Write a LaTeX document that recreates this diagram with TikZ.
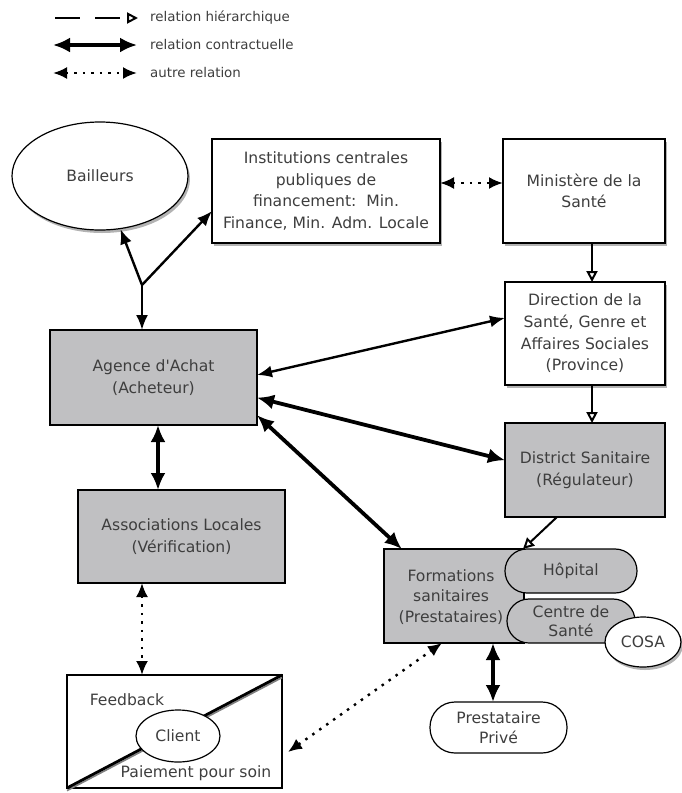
\documentclass[tikz,border=0pt]{standalone}
\usepackage{fontspec}
\setmainfont{DejaVu Sans}
\usetikzlibrary{arrows.meta,shapes.geometric,shadows,calc}
\definecolor{boxgray}{RGB}{192,192,194}
\definecolor{txt}{RGB}{62,62,62}
\begin{document}
\begin{tikzpicture}[x=1pt,y=-1pt,
  font=\fontsize{15.6}{21.7}\selectfont, text=txt,
  box/.style={draw=black, line width=1.2pt, align=center, inner sep=1pt, outer sep=0pt},
  graybox/.style={box, fill=boxgray},
  whitebox/.style={box, fill=white},
  shad/.style={drop shadow={shadow xshift=2pt, shadow yshift=-3pt, opacity=0.6}},
  pill/.style={box, rounded corners=21.9pt},
  contract/.style={line width=3.8pt, {Latex[length=17pt,width=15pt]}-{Latex[length=17pt,width=15pt]}},
  contractthin/.style={line width=2.4pt, -{Latex[length=15pt,width=12pt]}},
  hier/.style={line width=2pt, -{Triangle[open,length=11pt,width=11pt,line width=2pt]}},
  other/.style={line width=2.4pt, dash pattern=on 2.5pt off 6pt, {Latex[length=14pt,width=12pt]}-{Latex[length=14pt,width=12pt]}},
  legtext/.style={anchor=west, font=\fontsize{13.4}{15}\selectfont, inner sep=0pt}
]
\useasboundingbox (0,0) rectangle (682,793);

% legend
\node[legtext] (t1) at (150,18) {relation hiérarchique};
\node[legtext] (t2) at (150,45) {relation contractuelle};
\node[legtext] (t3) at (150,73) {autre relation};
\coordinate (l1) at (55,18);
\coordinate (l2) at (53,45);
\coordinate (l3) at (53,73);
\draw[hier, dash pattern=on 25pt off 15pt] (l1) -- ([xshift=-12pt]t1.west);
\draw[contract, line width=3.2pt] (l2) -- ([xshift=-13pt]t2.west);
\draw[other] (l3) -- ([xshift=-13pt]t3.west);

% nodes
\node[ellipse, draw=black, line width=1.2pt, fill=white, minimum width=176pt, minimum height=108pt, shad] (bail) at (100,176) {Bailleurs};
\node[whitebox, shad, minimum width=228pt, minimum height=104pt] (inst) at (326,191) {Institutions centrales\\publiques de\\financement:\ \ Min.\\Finance, Min. Adm. Locale};
\node[whitebox, shad, minimum width=162pt, minimum height=104pt] (min) at (584,191) {Ministère de la\\Santé};
\node[whitebox, shad, minimum width=160pt, minimum height=103pt] (dir) at (585,333.5) {Direction de la\\Santé, Genre et\\Affaires Sociales\\(Province)};
\node[graybox, minimum width=160pt, minimum height=94pt] (dist) at (585,470) {District Sanitaire\\(Régulateur)};
\node[graybox, minimum width=207pt, minimum height=95pt] (agence) at (153.5,377.5) {Agence d\textquotesingle Achat\\(Acheteur)};
\node[graybox, minimum width=207pt, minimum height=93pt] (assoc) at (181.5,536.5) {Associations Locales\\(Vérification)};

\node[graybox, minimum width=140pt, minimum height=94pt] (form) at (454,596) {};
\node[pill, fill=boxgray, minimum width=132pt, minimum height=44pt] (hop) at (571,571) {Hôpital};
\node[pill, fill=boxgray, minimum width=128pt, minimum height=44pt, font=\fontsize{15.6}{19.5}\selectfont] (cs) at (571,621) {Centre de\\Santé};
\node[align=center, inner sep=0pt, font=\fontsize{15.6}{20.5}\selectfont] (formtxt) at (451,597) {Formations\\sanitaires\\(Prestataires)};
\node[ellipse, draw=black, line width=1.2pt, fill=white, minimum width=76pt, minimum height=50pt, inner sep=0pt, shad] (cosa) at (643,642) {COSA};
\node[pill, fill=white, minimum width=137pt, minimum height=51pt, rounded corners=25pt, font=\fontsize{15.6}{20}\selectfont] (prest) at (498.5,727.5) {Prestataire\\Privé};

% client box
\node[box, minimum width=215pt, minimum height=113pt] (clbox) at (174.5,731.5) {};
\draw[line width=1.6pt, gray] ([yshift=-2.6pt]clbox.south west) -- ([yshift=-2.6pt]clbox.north east);
\draw[line width=2.8pt, black] (clbox.south west) -- (clbox.north east);
\node[ellipse, draw=black, line width=1.2pt, fill=white, minimum width=84pt, minimum height=52pt, inner sep=0pt] (client) at (178,736) {Client};
\node[inner sep=0pt] (fb) at (127,700) {Feedback};
\node[inner sep=0pt] (pay) at (196,773) {Paiement pour soin};

% connectors
\coordinate (J) at (142,285);
\draw[contractthin] (J) -- (bail);
\draw[contractthin] (J) -- (inst.190);
\draw[contractthin] (J) -- (agence.north -| J);
\draw[other] (inst.east |- 0,183) -- (min.west |- 0,183);
\draw[hier] ([xshift=8pt]min.south) -- ([xshift=7pt]dir.north);
\draw[hier] ([xshift=7pt]dir.south) -- ([xshift=7pt]dist.north);
\draw[hier] ([xshift=-28pt]dist.south) -- ([xshift=-48pt]hop.north);
\draw[line width=2.4pt, {Latex[length=15pt,width=12pt]}-{Latex[length=15pt,width=12pt]}] (agence.east |- 0,375) -- (dir.169);
\draw[contract] (agence.-11) -- (dist.173);
\draw[contract] (agence.-20) -- (form.138);
\draw[contract] ([xshift=4.5pt]agence.south) -- ([xshift=-23.5pt]assoc.north);
\draw[other] ([xshift=-39.5pt]assoc.south) -- ([xshift=-32.5pt]clbox.north);
\draw[other] ([xshift=6pt,yshift=-20.5pt]clbox.east) -- ([xshift=-12pt]form.south);
\draw[contract] ([xshift=39pt]form.south) -- ([xshift=-5.5pt]prest.north);
\end{tikzpicture}
\end{document}
